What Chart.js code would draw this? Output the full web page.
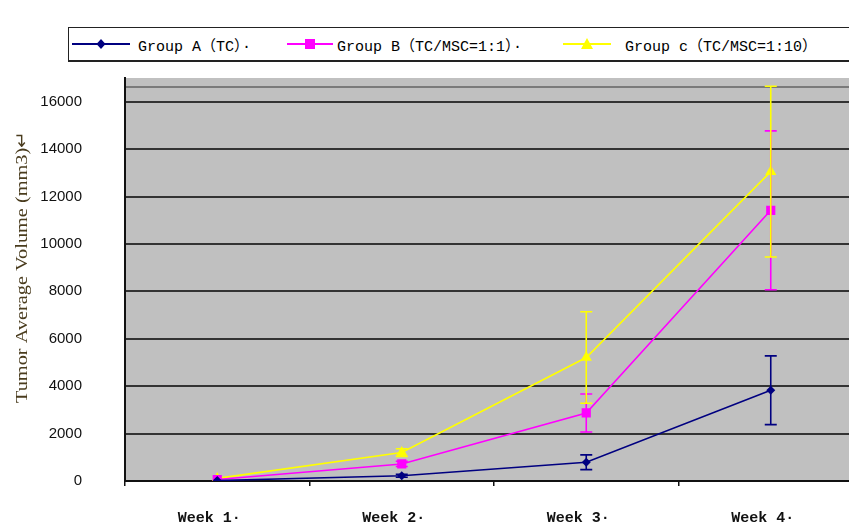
<!DOCTYPE html>
<html>
<head>
<meta charset="utf-8">
<script src="https://cdn.jsdelivr.net/npm/chart.js@4.4.0/dist/chart.umd.min.js"></script>
<style>
  @font-face { font-family: 'CJKParen'; src: local('Noto Sans CJK SC'), local('NotoSansCJKsc-Regular'), local('Noto Sans CJK SC Regular'); unicode-range: U+FF08-FF09; }
  html, body { margin: 0; padding: 0; background: #fff; overflow: hidden; }
  #wrap { position: relative; width: 849px; height: 526px; overflow: hidden; }
  #c { position: absolute; left: 0; top: 0; }
  #legend { position: absolute; left: 68px; top: 27px; width: 820px; height: 35px;
            border: 1px solid #222; border-bottom: 2px solid #222; box-sizing: border-box; background: #fff; }
  .item { position: absolute; top: 0; height: 32px; }
  .item svg { position: absolute; top: 8px; left: 0; }
  .item span { position: absolute; top: 6px; white-space: nowrap;
               font-family: "CJKParen", "Liberation Mono", "Noto Sans CJK SC", monospace; font-size: 15px; color: #000; }
</style>
</head>
<body>
<div id="wrap">
  <canvas id="c" width="870" height="550"></canvas>
  <div id="legend"></div>
</div>
<script>
// ---- data ----
const categories = ['Week 1·', 'Week 2·', 'Week 3·', 'Week 4·'];
const seriesNames = ['Group A（TC）·', 'Group B（TC/MSC=1:1）·', 'Group c（TC/MSC=1:10）'];
const groupA = [20, 220, 790, 3830];
const groupAErr = [0, 60, 310, 1450];
const groupB = [60, 720, 2870, 11420];
const groupBErr = [0, 110, 800, 3350];
const groupC = [110, 1200, 5210, 13050];
const groupCErr = [0, 160, 1930, 3600];
const yTickValues = [0, 2000, 4000, 6000, 8000, 10000, 12000, 14000, 16000];
const yExtraLine = [16600];
const yAxisTitle = 'Tumor Average Volume (mm3)↵';

const colors = ['#000080', '#ff00ff', '#ffff00'];
const shapes = ['rectRot', 'rect', 'triangle'];
const radii = [4.5, 6.5, 6.5];
const values = [groupA, groupB, groupC];
const errors = [groupAErr, groupBErr, groupCErr];

// ---- HTML legend ----
const legendPos = [
  { left: 3, lineW: 58, textLeft: 69 },
  { left: 218, lineW: 46, textLeft: 268 },
  { left: 494, lineW: 48, textLeft: 556 }
];
const legend = document.getElementById('legend');
seriesNames.forEach((name, i) => {
  const p = legendPos[i];
  const d = document.createElement('div');
  d.className = 'item';
  d.style.left = p.left + 'px';
  const w = p.lineW, cx = w / 2, cy = 8;
  let marker = '';
  if (i === 0) marker = `<polygon points="${cx},${cy-5} ${cx+4.5},${cy} ${cx},${cy+5} ${cx-4.5},${cy}" fill="${colors[i]}"/>`;
  if (i === 1) marker = `<rect x="${cx-5}" y="${cy-5}" width="10" height="10" fill="${colors[i]}"/>`;
  if (i === 2) marker = `<polygon points="${cx},${cy-6} ${cx+6},${cy+5} ${cx-6},${cy+5}" fill="${colors[i]}"/>`;
  d.innerHTML = `<svg width="${w}" height="16"><line x1="0" y1="${cy}" x2="${w}" y2="${cy}" stroke="${colors[i]}" stroke-width="2"/>${marker}</svg><span style="left:${p.textLeft - p.left}px">${name}</span>`;
  legend.appendChild(d);
});

// ---- plugins ----
const plotBg = {
  id: 'plotBg',
  beforeDraw(chart) {
    const { ctx, chartArea: a } = chart;
    ctx.save();
    ctx.fillStyle = '#c0c0c0';
    ctx.fillRect(a.left, a.top, a.right - a.left, a.bottom - a.top);
    ctx.restore();
  }
};

const errorBars = {
  id: 'errorBars',
  afterDatasetsDraw(chart) {
    const { ctx } = chart;
    const y = chart.scales.y;
    ctx.save();
    chart.data.datasets.forEach((ds, di) => {
      const meta = chart.getDatasetMeta(di);
      ctx.strokeStyle = ds.borderColor;
      ctx.lineWidth = 1.6;
      meta.data.forEach((pt, i) => {
        const e = errors[di][i];
        if (!e) return;
        const v = ds.data[i];
        const yt = y.getPixelForValue(v + e), yb = y.getPixelForValue(v - e);
        ctx.beginPath();
        ctx.moveTo(pt.x, yt); ctx.lineTo(pt.x, yb);
        ctx.moveTo(pt.x - 6, yt); ctx.lineTo(pt.x + 6, yt);
        ctx.moveTo(pt.x - 6, yb); ctx.lineTo(pt.x + 6, yb);
        ctx.stroke();
      });
    });
    ctx.restore();
  }
};

const yTitle = {
  id: 'yTitle',
  afterDraw(chart) {
    const { ctx } = chart;
    ctx.save();
    ctx.font = '17px "Liberation Serif", "Times New Roman", serif';
    ctx.fillStyle = '#4a3c1e';
    const target = 272;
    const m = ctx.measureText(yAxisTitle).width;
    ctx.translate(27, 403);
    ctx.rotate(-Math.PI / 2);
    ctx.scale(target / m, 1);
    ctx.textBaseline = 'alphabetic';
    ctx.fillText(yAxisTitle, 0, 0);
    ctx.restore();
  }
};

new Chart(document.getElementById('c'), {
  type: 'line',
  data: {
    labels: categories,
    datasets: values.map((v, i) => ({
      label: seriesNames[i],
      data: v,
      borderColor: colors[i],
      backgroundColor: colors[i],
      borderWidth: 1.6,
      pointStyle: shapes[i],
      pointRadius: radii[i],
      pointHoverRadius: radii[i],
      pointBorderWidth: 0,
      tension: 0,
      fill: false
    }))
  },
  options: {
    responsive: false,
    animation: false,
    events: [],
    layout: { padding: { top: 78, left: 0, right: 7, bottom: 0 } },
    plugins: { legend: { display: false }, tooltip: { enabled: false }, title: { display: false } },
    scales: {
      x: {
        offset: true,
        grid: { offset: true, drawOnChartArea: false, drawTicks: true, tickLength: 5, color: '#111', lineWidth: 1.5 },
        border: { display: true, color: '#111', width: 2 },
        ticks: {
          labelOffset: -8,
          padding: 23,
          color: '#111',
          font: { family: '"Liberation Mono", monospace', size: 15, weight: 'bold' },
          maxRotation: 0
        }
      },
      y: {
        min: 0,
        max: 17000,
        afterBuildTicks(s) {
          s.ticks = yTickValues.concat(yExtraLine).map(v => ({ value: v }));
        },
        grid: {
          drawTicks: false,
          color: c => (yExtraLine.includes(c.tick && c.tick.value) ? '#7a7a7a' : '#333'),
          lineWidth: 2
        },
        border: { display: true, color: '#111', width: 2 },
        ticks: {
          padding: 43,
          color: '#111',
          font: { family: '"Liberation Sans", Arial, sans-serif', size: 15 },
          callback: v => (yTickValues.includes(v) ? String(v) : '')
        },
        afterFit(s) { s.width = 125; }
      }
    }
  },
  plugins: [plotBg, errorBars, yTitle]
});
</script>
</body>
</html>
